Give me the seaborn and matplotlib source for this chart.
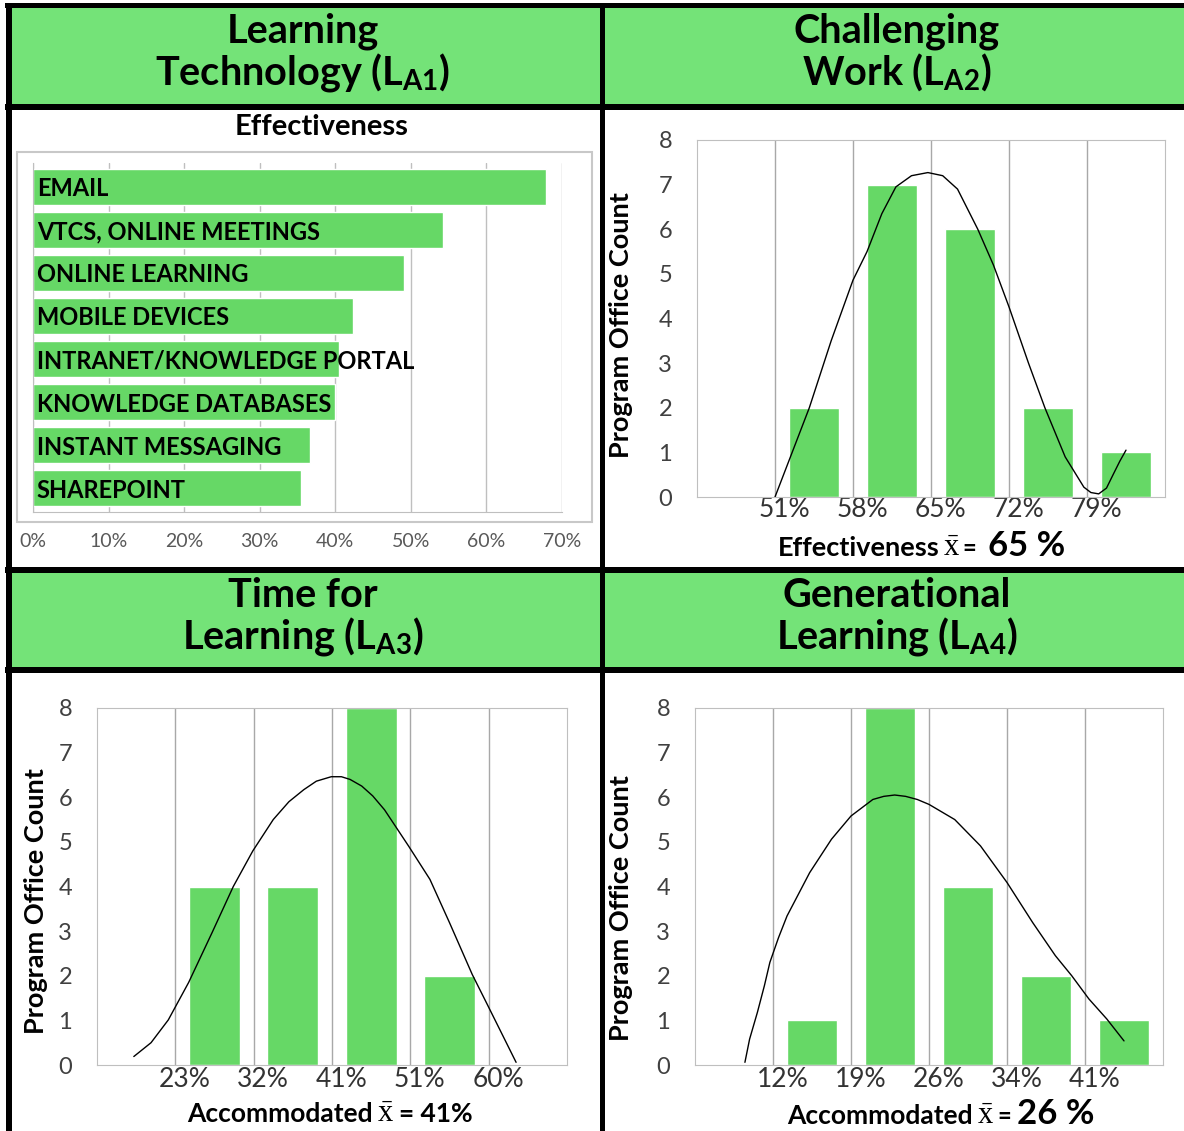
import numpy as np
import matplotlib
matplotlib.use("Agg")
import matplotlib.pyplot as plt
from matplotlib.patches import Rectangle
import seaborn as sns

# ---------------- data ----------------
tech_categories = ["EMAIL", "VTCS, ONLINE MEETINGS", "ONLINE LEARNING", "MOBILE DEVICES",
                   "INTRANET/KNOWLEDGE PORTAL", "KNOWLEDGE DATABASES", "INSTANT MESSAGING",
                   "SHAREPOINT"]
tech_effectiveness = [67.9, 54.2, 49.1, 42.4, 40.5, 40.0, 36.7, 35.4]
tech_ticks = [0, 10, 20, 30, 40, 50, 60, 70]

bins = [0, 1, 2, 3, 4, 5]

la2_counts = [0, 2, 7, 6, 2, 1]
la2_labels = ["51%", "58%", "65%", "72%", "79%"]
la2_curve_x = [0.5, 0.72, 0.94, 1.22, 1.5, 1.68, 1.87, 2.05, 2.25, 2.46, 2.65, 2.84, 2.97,
               3.1, 3.3, 3.5, 3.75, 3.96, 4.22, 4.46, 4.55, 4.65, 4.75, 4.84, 4.92, 5.0]
la2_curve_y = [0.0, 1.0, 2.0, 3.5, 4.86, 5.5, 6.35, 6.95, 7.2, 7.27, 7.2, 6.9, 6.45,
               6.0, 5.2, 4.26, 3.0, 2.0, 0.9, 0.22, 0.1, 0.07, 0.2, 0.52, 0.8, 1.05]

la3_counts = [0, 4, 4, 8, 2, 0]
la3_labels = ["23%", "32%", "41%", "51%", "60%"]
la3_curve_x = [-0.03, 0.19, 0.41, 0.67, 0.97, 1.24, 1.49, 1.75, 1.95, 2.14, 2.3, 2.49,
               2.62, 2.73, 2.88, 3.02, 3.17, 3.31, 3.48, 3.75, 4.0, 4.29, 4.49, 4.68, 4.85]
la3_curve_y = [0.19, 0.5, 1.01, 1.85, 2.97, 4.0, 4.8, 5.5, 5.9, 6.17, 6.36, 6.46,
               6.46, 6.4, 6.25, 6.03, 5.72, 5.35, 4.9, 4.16, 3.19, 2.03, 1.33, 0.66, 0.06]

la4_counts = [0, 1, 8, 4, 2, 1]
la4_labels = ["12%", "19%", "26%", "34%", "41%"]
la4_curve_x = [0.14, 0.2, 0.30, 0.39, 0.46, 0.57, 0.68, 0.97, 1.25, 1.5, 1.78, 1.92, 2.06,
               2.2, 2.35, 2.5, 2.83, 3.16, 3.5, 3.83, 4.12, 4.33, 4.55, 4.78, 5.0]
la4_curve_y = [0.06, 0.58, 1.18, 1.78, 2.3, 2.85, 3.34, 4.31, 5.06, 5.58, 5.95, 6.02, 6.05,
               6.02, 5.95, 5.84, 5.5, 4.91, 4.09, 3.19, 2.45, 2.0, 1.48, 1.03, 0.54]

titles = [["Learning", r"Technology ($\mathbf{L}_{\mathbf{A1}}$)"],
          ["Challenging", r"Work ($\mathbf{L}_{\mathbf{A2}}$)"],
          ["Time for", r"Learning ($\mathbf{L}_{\mathbf{A3}}$)"],
          ["Generational", r"Learning ($\mathbf{L}_{\mathbf{A4}}$)"]]

XBAR = r"$\bar{\mathrm{x}}$"
captions = [
    [("Effectiveness", 19.5, "bold"), (XBAR, 22, "normal"), ("=", 17, "bold"),
     ("65 %", 25, "bold")],
    [("Accommodated", 19, "bold"), (XBAR, 22, "normal"), ("= 41%", 19, "bold")],
    [("Accommodated", 19, "bold"), (XBAR, 22, "normal"), ("=", 17, "bold"),
     ("26 %", 25, "bold")],
]

# ---------------- style ----------------
sns.set_style("white")
plt.rcParams["font.family"] = ["Lato", "DejaVu Sans"]
plt.rcParams["mathtext.fontset"] = "custom"
plt.rcParams["mathtext.rm"] = "Liberation Serif"
plt.rcParams["mathtext.it"] = "Liberation Serif:italic"
plt.rcParams["mathtext.bf"] = "Lato:bold"

GREEN = "#66d866"
HEAD = "#74e378"
GRID = "#a8a8a8"
SPINE = "#bfbfbf"

W, H = 1184, 1131
fig = plt.figure(figsize=(W / 100, H / 100), dpi=100)
fig.patch.set_facecolor("white")


def fx(x):
    return x / W


def fy(y):
    return 1 - y / H


def add_axes(l, t, r, b):
    return fig.add_axes([fx(l), fy(b), (r - l) / W, (b - t) / H])


def rect(x0, y0, x1, y1, fc, ec="none", lw=0, z=0):
    fig.add_artist(Rectangle((fx(x0), fy(y1)), (x1 - x0) / W, (y1 - y0) / H,
                             transform=fig.transFigure, facecolor=fc, edgecolor=ec,
                             linewidth=lw, zorder=z))


# headers and borders
rect(10, 7, W, 105, HEAD, z=1)
rect(10, 572, W, 669, HEAD, z=1)
rect(5, 3, W, 8, "black", z=2)
rect(5, 104, W, 110, "black", z=2)
rect(5, 567, W, 573, "black", z=2)
rect(5, 667, W, 673, "black", z=2)
rect(6, 3, 12, H, "black", z=2)
rect(600, 3, 605, H, "black", z=2)

for (l1, l2), cx, (b1, b2) in zip(titles, [303, 897, 303, 897],
                                  [(43, 85), (43, 85), (607, 649), (607, 649)]):
    fig.text(fx(cx), fy(b1), l1, ha="center", va="baseline", fontsize=28.5,
             fontweight="bold", color="black", zorder=5)
    fig.text(fx(cx), fy(b2), l2, ha="center", va="baseline", fontsize=28.5,
             fontweight="bold", color="black", zorder=5)

# ---------------- panel 1: horizontal bars ----------------
rect(17, 152, 592, 522, "none", ec="#c8c8c8", lw=1.5, z=1)
fig.text(fx(322), fy(135), "Effectiveness", ha="center", va="baseline", fontsize=21,
         fontweight="bold", color="black")

ax1 = add_axes(33, 163, 562, 512)
sns.barplot(x=tech_effectiveness, y=tech_categories, orient="h", color=GREEN,
            saturation=1, width=0.83, ax=ax1)
ax1.set_xlim(0, 70)
ax1.set_ylim(7.55, -0.55)
ax1.set_xticks(tech_ticks, [f"{t}%" for t in tech_ticks])
ax1.set_yticks([])
ax1.set_xlabel("")
ax1.set_ylabel("")
ax1.xaxis.grid(True, color=SPINE, lw=1)
ax1.set_axisbelow(True)
for s in ["top", "right"]:
    ax1.spines[s].set_visible(False)
for s in ["left", "bottom"]:
    ax1.spines[s].set_color(SPINE)
ax1.tick_params(axis="x", length=0, pad=15, labelsize=14, labelcolor="#595959")
for i, c in enumerate(tech_categories):
    ax1.text(0.5, i, c, ha="left", va="center_baseline", fontsize=17,
             fontweight="bold", color="black", zorder=5)


# ---------------- histogram panels ----------------
def hist_panel(ax, counts, labels, cx, cy, ylab_x, ylab_y, xpad):
    sns.barplot(x=bins, y=counts, color=GREEN, saturation=1, width=0.65, ax=ax)
    ax.set_xlim(-0.5, 5.5)
    ax.set_ylim(0, 8)
    for b in np.arange(0.5, 5.0, 1.0):
        ax.axvline(b, color=GRID, lw=1, zorder=0)
    sns.lineplot(x=cx, y=cy, ax=ax, color="black", lw=1, sort=False, estimator=None)
    ax.set_xticks(np.arange(len(labels)) + 0.62, labels)
    ax.set_yticks(range(9))
    ax.tick_params(axis="x", length=0, pad=xpad, labelsize=19, labelcolor="#333333")
    ax.tick_params(axis="y", length=0, pad=18, labelsize=17, labelcolor="#404040")
    for s in ax.spines.values():
        s.set_visible(True)
        s.set_color(SPINE)
    ax.set_xlabel("")
    ax.set_ylabel("Program Office Count", fontsize=19.5, fontweight="bold", color="black")
    ax.yaxis.set_label_coords(ylab_x, ylab_y)


ax2 = add_axes(697, 140, 1165, 497)
hist_panel(ax2, la2_counts, la2_labels, la2_curve_x, la2_curve_y, -0.137, 0.482, 0)
ax3 = add_axes(97, 708, 567, 1065)
hist_panel(ax3, la3_counts, la3_labels, la3_curve_x, la3_curve_y, -0.104, 0.46, 1.5)
ax4 = add_axes(695, 708, 1163, 1065)
hist_panel(ax4, la4_counts, la4_labels, la4_curve_x, la4_curve_y, -0.132, 0.44, 1.5)

# x-axis captions built from pieces placed side by side
renderer = fig.canvas.get_renderer()
for pieces, x_start, base, gaps in zip(captions, [778, 187, 787], [556, 1122, 1124],
                                       [[3, 3, 12], [4, 6], [4, 4, 6]]):
    x = x_start
    for k, (s, size, weight) in enumerate(pieces):
        t = fig.text(fx(x), fy(base), s, ha="left", va="baseline", fontsize=size,
                     fontweight=weight, color="black")
        bb = t.get_window_extent(renderer)
        if k < len(gaps):
            x = bb.x1 + gaps[k]

fig.savefig("out.png", dpi=100)
